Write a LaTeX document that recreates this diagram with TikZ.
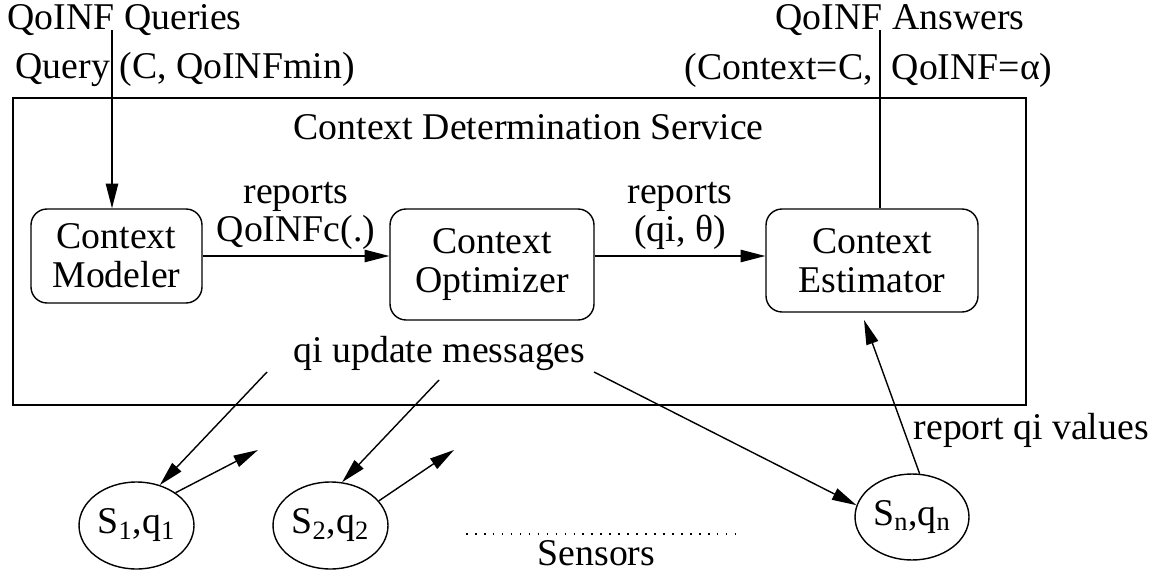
\documentclass[tikz,border=0pt]{standalone}
\usepackage{fontspec}
\setmainfont{Liberation Serif}
\usetikzlibrary{arrows.meta,shapes.geometric}

\begin{document}
\begin{tikzpicture}[x=0.02cm,y=-0.02cm,
        font=\fontsize{21.5pt}{22pt}\selectfont,
        line width=0.8pt,
        arr/.style={-{Triangle[length=14pt,width=7pt]}},
        txt/.style={inner sep=0pt,anchor=base west},
        unit/.style={draw,rounded corners=0.32cm,align=center,inner sep=0pt},
        sensor/.style={draw,ellipse,inner sep=0pt,minimum width=2.3cm,minimum height=1.74cm}]
        \useasboundingbox (0,0) rectangle (1158,577);
        % define point
        \coordinate (qtop) at (112,30);
        \coordinate (atop) at (880,30);
        \coordinate (u1) at (267,372);
        \coordinate (o1) at (258,450);
        \coordinate (u2) at (439,380);
        \coordinate (o2) at (454,450);
        \coordinate (u3) at (594,372);
        \coordinate (rtip) at (864,320);
        \coordinate (d1) at (466,534);
        \coordinate (d2) at (741,534);
        % service box
        \draw (13,98) rectangle (1026,405);
        \node[txt] (cds) at (293,140) {Context Determination Service};
        \node[txt] (upd) at (293,362) {qi update messages};
        % units
        \node[unit,minimum width=3.42cm,minimum height=1.88cm] (CM) at (116.5,256) {Context\\Modeler};
        \node[unit,minimum width=4.08cm,minimum height=2.22cm] (CO) at (492,264.5) {Context\\Optimizer};
        \node[unit,minimum width=4.24cm,minimum height=2.06cm] (CE) at (872,260.5) {Context\\Estimator};
        % sensors
        \node[sensor] (S1) at (136.5,525.5) {S\textsubscript{1},q\textsubscript{1}};
        \node[sensor] (S2) at (330.5,525.5) {S\textsubscript{2},q\textsubscript{2}};
        \node[sensor,minimum width=2.28cm,minimum height=1.72cm] (Sn) at (912,517) {S\textsubscript{n},q\textsubscript{n}};
        \draw[line width=0.9pt,dash pattern=on 0.9pt off 4.2pt] (d1) -- (d2);
        \node[txt] (sens) at (537,565) {Sensors};
        % queries and answers
        \node[txt] (qq) at (7,30) {QoINF Queries};
        \node[txt] (qc) at (15,79) {Query (C, QoINFmin)};
        \node[txt] (qa) at (775,30) {QoINF Answers};
        \node[txt] (ac) at (684,80) {(Context=C,\enspace QoINF=α)};
        \draw [arr] (qtop) -- (qtop |- CM.north);
        \draw (atop) -- (atop |- CE.north);
        % reports
        \draw [arr] (CM.east) -- (CO.west |- CM.east)  node [midway, above, align=center, inner sep=3pt] {reports\\QoINFc(.)};
        \draw [arr] (CO.east |- CM.east) -- (CE.west |- CM.east)  node [midway, above, align=center, inner sep=3pt] {reports\\(qi, θ)};
        % qi updates
        \draw [arr] (u1) -- (S1.60);
        \draw [arr] (S1.40) -- (o1);
        \draw [arr] (u2) -- (S2.75);
        \draw [arr] (S2.27) -- (o2);
        \draw [arr] (u3) -- (Sn.168);
        \draw [arr] (Sn.80) -- (rtip);
        \node[txt] (rq) at (913,439) {report qi values};
    \end{tikzpicture}
\end{document}
